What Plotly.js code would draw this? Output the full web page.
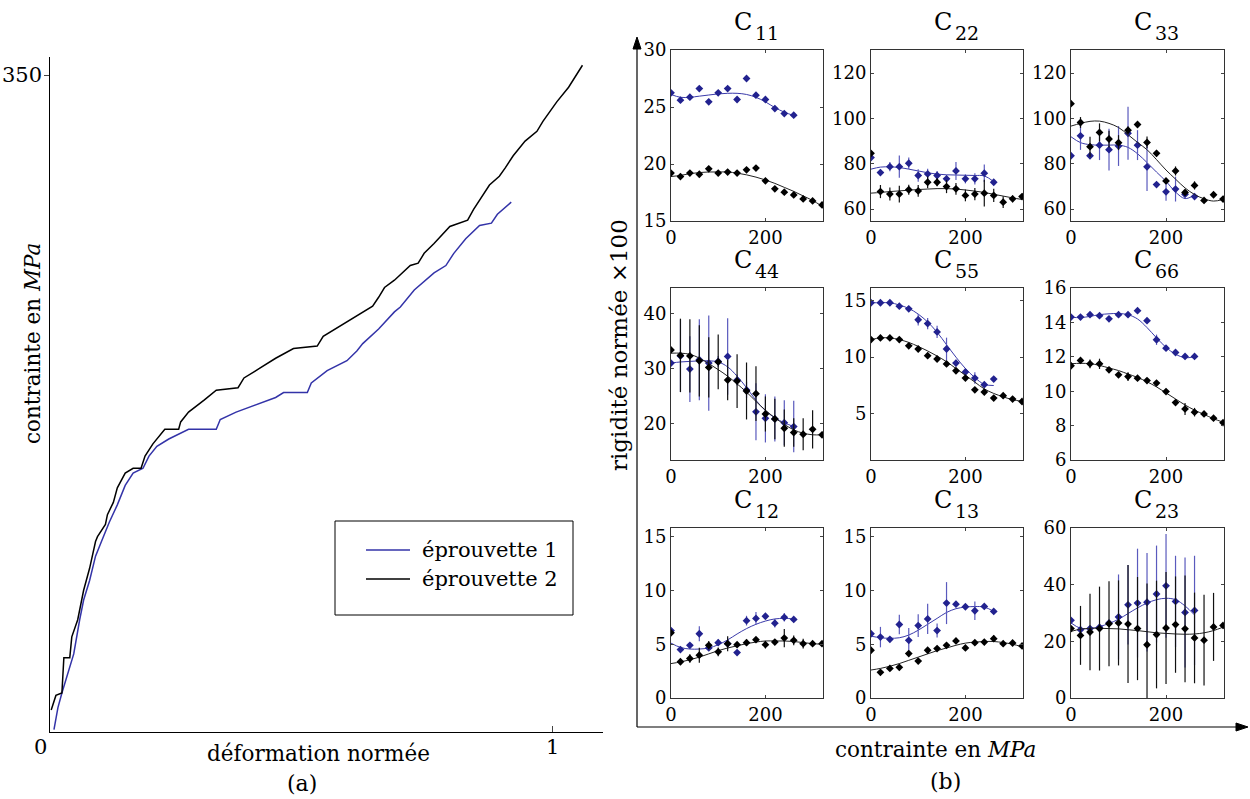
<!DOCTYPE html>
<html><head><meta charset="utf-8">
<script src="https://cdn.plot.ly/plotly-3.0.1.min.js"></script>
<style>html,body{margin:0;padding:0;background:#fff}#chart{width:1250px;height:799px}</style>
</head><body><div id="chart"></div>
<script>
// ---------- Panel (a) data ----------
const strain1 = [0.0079,0.0158,0.0237,0.0355,0.0473,0.0591,0.0670,0.0789,0.0907,0.1025,0.1183,0.1341,0.1498,0.1656,0.1853,0.1972,0.2129,0.2366,0.2760,0.3312,0.3391,0.3707,0.4101,0.4495,0.4653,0.5126,0.5205,0.5521,0.5915,0.6112,0.6230,0.6546,0.6861,0.6979,0.7256,0.7650,0.7886,0.8044,0.8281,0.8557,0.8793,0.8912,0.9188];
const stress1 = [1.3,13.0,20.8,31.2,41.6,59.8,70.3,80.7,93.7,101.5,111.9,121.0,131.4,137.9,140.5,147.0,152.2,156.1,161.3,161.3,166.5,170.4,174.3,178.2,180.8,180.8,186.0,192.5,197.8,203.0,206.9,214.7,223.8,226.4,235.5,244.6,248.5,255.0,262.8,269.8,271.1,275.8,282.3];
const strain2 = [0.0024,0.0118,0.0237,0.0276,0.0394,0.0434,0.0552,0.0670,0.0789,0.0907,0.0946,0.1104,0.1144,0.1262,0.1341,0.1498,0.1656,0.1814,0.1893,0.2050,0.2287,0.2563,0.2603,0.2760,0.3076,0.3312,0.3746,0.3864,0.4180,0.4495,0.4850,0.5323,0.5442,0.5757,0.6073,0.6427,0.6546,0.6664,0.6861,0.7177,0.7334,0.7453,0.7650,0.7965,0.8320,0.8438,0.8754,0.8951,0.9069,0.9227,0.9464,0.9700,0.9819,1.0095,1.0331,1.0607];
const stress2 = [11.7,19.5,20.8,39.6,39.6,50.7,59.8,75.5,87.2,101.5,104.1,110.6,115.8,122.3,130.1,137.9,140.5,140.5,147.0,153.5,161.3,161.3,165.2,170.4,176.9,182.1,183.4,188.6,193.8,199.1,204.3,205.6,210.8,216.0,221.2,226.9,231.6,236.8,240.7,248.5,249.8,255.0,260.2,269.3,272.7,278.4,291.4,296.1,300.5,307.0,314.8,320.0,325.3,335.7,343.5,355.2];
const legendNames = ["éprouvette 1","éprouvette 2"];
const aTickX = [1], aTickY = [350];

// ---------- Panel (b) data ----------
const stressAll = [0,20,40,60,80,100,120,140,160,180,200,220,240,260,280,300,320];
const stressSpec1 = [0,20,40,60,80,100,120,140,160,180,200,220,240,260];
const panelNames = ["11","22","33","44","55","66","12","13","23"];

const c11Blue = [26.24,25.6,25.86,26.62,25.45,26.24,26.62,25.66,27.5,26.04,25.66,24.86,24.42,24.28];
const c11BlueErr = [0,0,0,0,0,0,0,0,0,0,0,0,0,0];
const c11BlueFit = [26.1,25.85,25.85,25.95,26.05,26.15,26.2,26.2,26.1,25.85,25.45,24.95,24.55,24.25];
const c11Black = [19.2,18.9,19.2,19.1,19.58,19.2,19.29,19.2,19.49,19.64,18.52,17.82,17.53,17.29,16.94,16.76,16.41];
const c11BlackErr = [0,0,0,0,0,0,0,0,0,0,0,0,0,0,0,0,0];
const c11BlackFit = [18.9,19.0,19.15,19.25,19.3,19.3,19.3,19.2,19.05,18.85,18.6,18.3,17.95,17.6,17.2,16.8,16.3];

const c22Blue = [82.7,76.1,78.7,78.7,80.2,74.8,75.5,74.8,73.3,76.8,73.3,73.3,75.8,71.8];
const c22BlueErr = [0,1.5,2,4.9,2.5,2.8,2.3,2,1.8,4,2,2.5,3.9,1];
const c22BlueFit = [77.6,78.5,78.6,78.3,77.6,76.8,76.0,75.4,75.1,75.0,74.9,74.8,74.6,72.1];
const c22Black = [84.6,67.7,66.6,66.6,68.5,68.0,71.8,71.8,69.9,68.9,66.0,66.6,67.0,66.0,63.0,64.5,65.5];
const c22BlackErr = [0,2.9,2.9,3.7,2.2,2.6,2.6,1.8,2.9,2.6,2.6,2.7,5.9,2.9,2.6,1.5,0];
const c22BlackFit = [67.0,67.3,67.7,68.0,68.3,68.6,68.8,69.0,69.0,68.8,68.4,67.9,67.3,66.5,65.7,64.9,64.2];

const c33Blue = [83.5,92.3,83.5,88.2,86.2,87.8,93.4,88.2,78.6,70.8,67.6,68.8,66.5,65.5];
const c33BlueErr = [0,6.2,1,6.6,9.2,8.8,11.7,6.6,10.6,1,4,5.5,1,1];
const c33BlueFit = [91.9,89.3,88.4,88.2,88.2,88.2,87.2,84.4,80.5,76.3,72.2,67.5,64.6,66.2];
const c33Black = [106.5,98.2,87.5,93.8,90.9,89.3,94.8,97.3,89.4,84.6,72.4,76.8,67.3,70.4,63.8,66.3,64.4];
const c33BlackErr = [0,2.4,4.4,4,3.7,3.3,1.6,1,2.6,1.5,1,2,1,1.8,0.5,0.5,0];
const c33BlackFit = [96.6,97.8,98.7,98.8,97.8,96.0,92.8,89.4,86.2,81.8,77.2,73.2,69.3,66.4,64.5,63.5,64.2];

const c44Blue = [31.0,32.3,29.9,31.6,31.0,31.3,32.2,27.9,26.1,22.1,20.9,20.8,20.1,19.4];
const c44BlueErr = [0,6.6,6,7.4,8.7,1,7,1,1.5,5.2,4.4,4.1,4.1,4.7];
const c44BlueFit = [31.0,31.2,31.3,31.4,31.4,31.2,30.3,28.6,26.5,24.2,22.3,21.0,20.1,19.4];
const c44Black = [33.4,32.4,32.3,31.4,30.2,31.2,27.9,27.7,25.9,25.4,21.7,20.8,19.1,18.3,18.0,18.9,17.9];
const c44BlackErr = [0,6.7,6.7,6.5,5.5,5,3.7,4.9,5.2,5,3.2,3.7,3.4,2.6,2.9,3.5,0];
const c44BlackFit = [32.8,32.8,32.6,31.9,30.9,29.8,28.6,27.2,25.7,24.0,22.4,21.0,19.8,18.8,18.2,17.9,17.9];

const c55Blue = [14.8,14.8,14.8,14.5,14.26,13.3,12.96,12.23,10.72,9.48,8.69,8.16,7.57,8.07];
const c55BlueErr = [0,0,0,0,0.2,0.5,0.5,0.55,1.0,0.3,0.3,0.5,0.2,0];
const c55BlueFit = [14.8,14.8,14.8,14.6,14.3,13.8,13.1,12.2,11.1,10.0,9.0,8.2,7.6,7.5];
const c55Black = [11.55,11.7,11.7,11.55,11.0,10.72,10.13,9.84,9.4,8.8,8.16,7.12,6.92,6.39,6.6,6.3,6.09];
const c55BlackErr = [0,0,0,0,0,0,0,0,0,0,0,0,0,0,0,0,0];
const c55BlackFit = [11.55,11.7,11.7,11.55,11.3,10.95,10.55,10.1,9.6,9.0,8.4,7.8,7.2,6.8,6.5,6.25,6.1];

const c66Blue = [14.31,14.31,14.45,14.39,14.21,14.45,14.45,14.68,14.1,12.99,12.5,12.25,12.02,12.02];
const c66BlueErr = [0,0,0,0,0,0,0,0,0,0.3,0,0,0,0];
const c66BlueFit = [14.3,14.28,14.35,14.45,14.5,14.52,14.45,14.2,13.7,13.1,12.55,12.15,11.95,12.0];
const c66Black = [11.48,11.79,11.59,11.59,11.24,10.95,10.85,10.76,10.62,10.47,9.98,9.34,8.97,8.78,8.68,8.43,8.17];
const c66BlackErr = [0,0,0.26,0.3,0,0,0.25,0,0,0,0,0,0.35,0.25,0,0,0];
const c66BlackFit = [11.6,11.62,11.6,11.5,11.35,11.2,11.0,10.8,10.55,10.25,9.9,9.55,9.2,8.9,8.65,8.4,8.2];

const c12Blue = [6.27,4.5,4.9,5.97,4.65,5.14,5.05,4.22,7.19,7.4,7.6,6.95,7.5,7.3];
const c12BlueErr = [0,0.2,0.2,0.7,0.2,0.3,0.5,0,0.45,0.6,0,0.4,0.4,0];
const c12BlueFit = [5.1,4.7,4.55,4.55,4.65,4.95,5.4,5.95,6.45,6.85,7.15,7.35,7.4,7.35];
const c12Black = [6.06,3.37,3.67,3.98,4.9,4.29,5.05,4.96,5.14,5.42,4.96,5.2,5.57,5.36,5.05,5.05,5.05];
const c12BlackErr = [0,0,0.4,0.7,0.4,0.4,0.7,0,0.3,0,0.35,0,0.85,0.45,0.45,0,0];
const c12BlackFit = [3.2,3.35,3.55,3.8,4.1,4.4,4.65,4.85,5.05,5.2,5.3,5.3,5.3,5.25,5.15,5.05,5.0];

const c13Blue = [5.97,5.66,5.45,6.83,5.36,6.73,7.35,6.27,8.82,8.72,8.48,8.11,8.51,8.05];
const c13BlueErr = [0,0.95,0,0.9,1.15,1.05,1.4,0.65,1.95,0,0.25,0.85,0,0];
const c13BlueFit = [5.75,5.6,5.55,5.6,5.85,6.3,6.85,7.4,7.95,8.3,8.45,8.5,8.45,8.05];
const c13Black = [4.44,2.39,2.75,2.85,4.13,3.43,4.44,4.59,4.9,5.3,4.65,5.14,5.2,5.51,5.05,5.11,4.84];
const c13BlackErr = [0,0,0,0,0,0,0,0,0,0,0,0,0,0.3,0,0,0];
const c13BlackFit = [2.6,2.75,2.95,3.2,3.5,3.8,4.1,4.4,4.65,4.9,5.1,5.2,5.25,5.25,5.15,5.0,4.75];

const c23Blue = [27.4,24.1,24.5,25.0,26.5,28.6,32.9,33.5,33.8,36.7,39.6,34.1,30.2,30.9];
const c23BlueErr = [0,0,0,0,0,15,14,19.2,17.4,17.1,18.3,16.1,19.4,19.3];
const c23BlueFit = [26.5,24.6,24.5,25.2,26.3,27.8,29.8,31.8,33.5,34.7,35.2,34.7,32.5,29.3];
const c23Black = [24.5,22.1,23.3,24.5,26.2,26.5,26.1,24.5,18.8,22.4,24.7,25.9,24.4,21.2,20.4,25.1,25.6];
const c23BlackErr = [0,10.4,13.5,14.8,15,15,20.8,18.2,21.6,19,19.8,17,18.8,16,16,12,0];
const c23BlackFit = [23.5,24.3,24.6,24.6,24.5,24.4,24.1,23.8,23.4,23.0,22.8,22.6,22.5,22.6,23.0,23.8,25.0];

const yRanges = [[15,30],[54.7,130.2],[54.7,130.2],[13.3,44.7],[0.93,16.1],[6,16],[0,15.8],[0,15.8],[0,60]];
const yTicks = [[15,20,25,30],[60,80,100,120],[60,80,100,120],[20,30,40],[5,10,15],[6,8,10,12,14,16],[0,5,10,15],[0,5,10,15],[0,20,40,60]];
const xTicks = [0,200];

const panels = [
  [c11Blue,c11BlueErr,c11BlueFit,c11Black,c11BlackErr,c11BlackFit],
  [c22Blue,c22BlueErr,c22BlueFit,c22Black,c22BlackErr,c22BlackFit],
  [c33Blue,c33BlueErr,c33BlueFit,c33Black,c33BlackErr,c33BlackFit],
  [c44Blue,c44BlueErr,c44BlueFit,c44Black,c44BlackErr,c44BlackFit],
  [c55Blue,c55BlueErr,c55BlueFit,c55Black,c55BlackErr,c55BlackFit],
  [c66Blue,c66BlueErr,c66BlueFit,c66Black,c66BlackErr,c66BlackFit],
  [c12Blue,c12BlueErr,c12BlueFit,c12Black,c12BlackErr,c12BlackFit],
  [c13Blue,c13BlueErr,c13BlueFit,c13Black,c13BlackErr,c13BlackFit],
  [c23Blue,c23BlueErr,c23BlueFit,c23Black,c23BlackErr,c23BlackFit]
];

// ---------- helpers ----------
const W = 1250, H = 799;
const px = x => x / W;
const py = y => 1 - y / H;
const FONT = "DejaVu Serif, Liberation Serif, serif";
const BLUE_M = '#22228f', BLUE_L = '#3a3aaa', BLUE_E = '#5a5abd';
const F = (size) => ({family: FONT, size: size, color: '#000'});
const ann = (x, y, text, size, extra) => Object.assign({xref:'paper', yref:'paper', x:px(x), y:py(y), text:text, showarrow:false, font:F(size), xanchor:'center', yanchor:'middle'}, extra || {});

const traces = [];
const layout = {
  width: W, height: H, margin: {l:0,r:0,t:0,b:0},
  paper_bgcolor: '#fff', plot_bgcolor: 'rgba(0,0,0,0)',
  showlegend: false, font: F(18),
  annotations: [], shapes: []
};

// Panel (a)
traces.push({x: strain1, y: stress1, xaxis:'x', yaxis:'y', mode:'lines', line:{color:'#3333a8', width:1.5}, name: legendNames[0]});
traces.push({x: strain2, y: stress2, xaxis:'x', yaxis:'y', mode:'lines', line:{color:'#000', width:1.5}, name: legendNames[1]});
layout.xaxis = {domain:[px(50), px(603)], range:[0, 1.1016], tickvals:aTickX, ticks:'inside', ticklen:6, showticklabels:false, showline:true, linecolor:'#000', linewidth:1, showgrid:false, zeroline:false, anchor:'y'};
layout.yaxis = {domain:[py(732), py(57)], range:[0, 359.6], tickvals:aTickY, ticks:'outside', ticklen:5, showticklabels:false, showline:true, linecolor:'#000', linewidth:1, showgrid:false, zeroline:false, anchor:'x'};
layout.annotations.push(ann(44, 75, String(aTickY[0]), 21, {xanchor:'right'}));
layout.annotations.push(ann(552, 747, String(aTickX[0]), 21));
layout.annotations.push(ann(40, 747, '0', 21));
layout.annotations.push(ann(318, 753, 'déformation normée', 21.5));
layout.annotations.push(ann(302, 783, '(a)', 22));
layout.annotations.push(ann(32, 344, 'contrainte en <i>MPa</i>', 21.5, {textangle:-90}));
// legend box (a)
layout.shapes.push({type:'rect', xref:'paper', yref:'paper', x0:px(335), x1:px(573), y0:py(615), y1:py(521), line:{color:'#000', width:1}, fillcolor:'#fff'});
layout.shapes.push({type:'line', xref:'paper', yref:'paper', x0:px(366), x1:px(410), y0:py(550), y1:py(550), line:{color:'#3333a8', width:1.5}});
layout.shapes.push({type:'line', xref:'paper', yref:'paper', x0:px(366), x1:px(410), y0:py(579), y1:py(579), line:{color:'#000', width:1.5}});
layout.annotations.push(ann(420, 550, legendNames[0], 21, {xanchor:'left'}));
layout.annotations.push(ann(420, 579, legendNames[1], 21, {xanchor:'left'}));

// Panel (b) grid
const colL = [671, 871, 1071], colR = [823, 1023, 1224];
const rowT = [50, 288, 528], rowB = [221, 460, 698];
panels.forEach((p, i) => {
  const r = Math.floor(i/3), c = i % 3;
  const n = i + 2;
  const xa = 'x' + n, ya = 'y' + n;
  const [bv, be, bf, kv, ke, kf] = p;
  traces.push({x: stressSpec1, y: bf, xaxis:xa, yaxis:ya, mode:'lines', line:{color:BLUE_L, width:1, shape:'spline', smoothing:1}, hoverinfo:'skip'});
  traces.push({x: stressSpec1, y: bv, xaxis:xa, yaxis:ya, mode:'markers', marker:{symbol:'diamond', size:6, color:BLUE_M},
    error_y:{type:'data', array:be, visible:true, color:BLUE_E, thickness:1.2, width:0}});
  traces.push({x: stressAll, y: kf, xaxis:xa, yaxis:ya, mode:'lines', line:{color:'#222', width:1, shape:'spline', smoothing:1}, hoverinfo:'skip'});
  traces.push({x: stressAll, y: kv, xaxis:xa, yaxis:ya, mode:'markers', marker:{symbol:'diamond', size:6, color:'#000'},
    error_y:{type:'data', array:ke, visible:true, color:'#111', thickness:1.2, width:0}});
  layout['xaxis' + n] = {domain:[px(colL[c]), px(colR[c])], range:[0, 322], tickvals:xTicks, ticks:'inside', ticklen:3, mirror:'ticks', showline:true, linecolor:'#333', linewidth:1, showgrid:false, zeroline:false, tickfont:F(18), anchor:ya};
  layout['yaxis' + n] = {domain:[py(rowB[r]), py(rowT[r])], range:yRanges[i], tickvals:yTicks[i], ticks:'inside', ticklen:3, mirror:'ticks', showline:true, linecolor:'#333', linewidth:1, showgrid:false, zeroline:false, tickfont:F(18), anchor:xa};
  layout.annotations.push(ann(colL[c] + 72, rowT[r] - 28, 'C', 24));
  layout.annotations.push(ann(colL[c] + 96, rowT[r] - 17, panelNames[i], 19));
});

// Panel (b) big axes with arrows
layout.shapes.push({type:'line', xref:'paper', yref:'paper', x0:px(637), x1:px(637), y0:py(727), y1:py(46), line:{color:'#000', width:1.2}});
layout.shapes.push({type:'line', xref:'paper', yref:'paper', x0:px(637), x1:px(1238), y0:py(727), y1:py(727), line:{color:'#000', width:1.2}});
layout.shapes.push({type:'path', xref:'paper', yref:'paper', path:`M ${px(637)} ${py(37)} L ${px(633)} ${py(49)} L ${px(641)} ${py(49)} Z`, fillcolor:'#000', line:{color:'#000', width:1}});
layout.shapes.push({type:'path', xref:'paper', yref:'paper', path:`M ${px(1248)} ${py(727)} L ${px(1236)} ${py(723)} L ${px(1236)} ${py(731)} Z`, fillcolor:'#000', line:{color:'#000', width:1}});
layout.annotations.push(ann(619, 345, 'rigidité normée ×100', 23, {textangle:-90}));
layout.annotations.push(ann(935, 749, 'contrainte en <i>MPa</i>', 21.5));
layout.annotations.push(ann(945, 781, '(b)', 22));

Plotly.newPlot('chart', traces, layout, {staticPlot:true, displayModeBar:false});
</script></body></html>
